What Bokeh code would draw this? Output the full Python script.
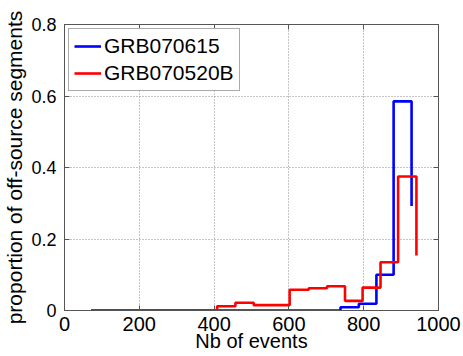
from bokeh.plotting import figure
from bokeh.models import (Range1d, FixedTicker, LinearAxis, Legend, LegendItem,
                          CustomJSTickFormatter)
from bokeh.embed import file_html
from bokeh.resources import INLINE

# Stair-step histograms: bin left edges (Nb of events) and proportions
grb1_name = "GRB070615"
grb1_x = [71, 738, 787, 834, 880, 928]
grb1_y = [0.0, 0.009, 0.019, 0.100, 0.585, 0.292]

grb2_name = "GRB070520B"
grb2_x = [71, 408, 457, 506, 555, 602, 653, 702, 750, 797, 845, 892, 941]
grb2_y = [0.0, 0.012, 0.0215, 0.015, 0.015, 0.058, 0.0624, 0.068, 0.027,
          0.064, 0.135, 0.375, 0.154]

x_ticks = [0, 200, 400, 600, 800, 1000]
y_ticks = [0, 0.2, 0.4, 0.6, 0.8]

FONT = "Liberation Sans"
FRAME = "#555555"

p = figure(width=463, height=356, output_backend="svg", toolbar_location=None,
           x_range=Range1d(0, 1000), y_range=Range1d(0, 0.8),
           min_border_left=64, min_border_right=25,
           min_border_top=24, min_border_bottom=46)
p.background_fill_color = "white"
p.border_fill_color = "white"
p.outline_line_color = FRAME
p.outline_line_width = 1

fmt = CustomJSTickFormatter(code="return (Math.round(tick*10)/10).toString();")

for ax, ticks in ((p.xaxis[0], x_ticks), (p.yaxis[0], y_ticks)):
    ax.ticker = FixedTicker(ticks=ticks)
    ax.formatter = fmt
    ax.major_tick_in = 5
    ax.major_tick_out = 0
    ax.minor_tick_line_color = None
    ax.axis_line_color = FRAME
    ax.major_tick_line_color = FRAME
    ax.major_label_text_font = FONT
    ax.major_label_text_color = "black"
    ax.axis_label_text_font = FONT
    ax.axis_label_text_font_style = "normal"
    ax.axis_label_text_color = "black"

p.xaxis.axis_label = "Nb of events"
p.xaxis.major_label_text_font_size = "20px"
p.xaxis.axis_label_text_font_size = "20px"
p.xaxis.major_label_standoff = 6
p.xaxis.axis_label_standoff = -4

p.yaxis.axis_label = "proportion of off-source segments"
p.yaxis.major_label_text_font_size = "18px"
p.yaxis.axis_label_text_font_size = "21px"
p.yaxis.major_label_standoff = 8
p.yaxis.axis_label_standoff = 2

# Tick marks (no labels) on the top and right edges of the box
blank = CustomJSTickFormatter(code="return '';")
for side, ticks in (("above", x_ticks), ("right", y_ticks)):
    ax = LinearAxis(ticker=FixedTicker(ticks=ticks), formatter=blank,
                    major_tick_in=5, major_tick_out=0,
                    minor_tick_line_color=None, major_label_standoff=0,
                    axis_line_color=FRAME, major_tick_line_color=FRAME)
    p.add_layout(ax, side)

# Dotted grid at the interior ticks
p.xgrid.ticker = FixedTicker(ticks=x_ticks[1:-1])
p.ygrid.ticker = FixedTicker(ticks=y_ticks[1:-1])
for g in (p.xgrid, p.ygrid):
    g.grid_line_color = "#8a8a8a"
    g.grid_line_dash = "1 2"
    g.grid_line_width = 1

r1 = p.step(grb1_x, grb1_y, mode="after", line_color="#0000ff", line_width=2.6)
r2 = p.step(grb2_x, grb2_y, mode="after", line_color="#ff0000", line_width=2.6)

legend = Legend(items=[LegendItem(label=grb1_name, renderers=[r1]),
                       LegendItem(label=grb2_name, renderers=[r2])],
                location="top_left", margin=4, padding=5, spacing=3,
                glyph_width=27, glyph_height=22, label_standoff=3,
                label_text_font=FONT, label_text_font_size="21px",
                label_text_color="black",
                border_line_color=FRAME, border_line_width=1,
                background_fill_color="white", background_fill_alpha=1)
p.add_layout(legend, "center")

open("out.html", "w").write(file_html(p, INLINE))
